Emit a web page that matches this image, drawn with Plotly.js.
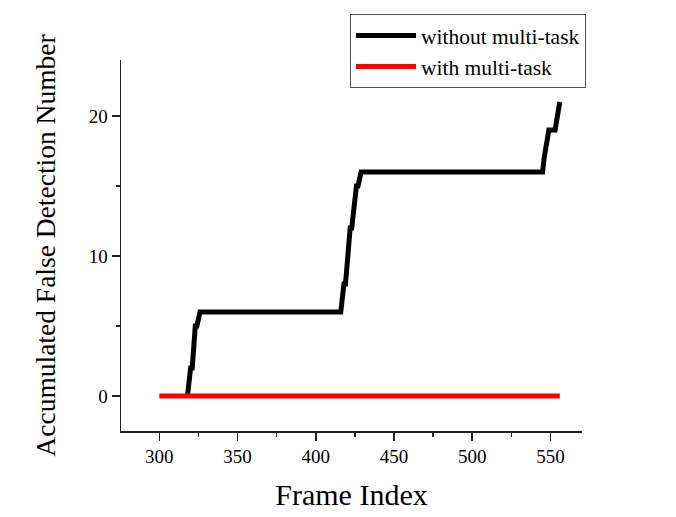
<!DOCTYPE html>
<html>
<head>
<meta charset="utf-8">
<script src="https://cdn.plot.ly/plotly-3.0.1.min.js"></script>
<style>
  html, body { margin: 0; padding: 0; background: #fff; }
  #chart { width: 676px; height: 517px; }
</style>
</head>
<body>
<div id="chart"></div>
<script>
// accumulated false detections
var framesWithout = [318, 320, 321, 323, 324, 326, 416, 418, 419, 422, 423, 426, 427, 429, 545, 546, 549, 553, 556];
var countsWithout = [0, 2, 2, 5, 5, 6, 6, 8, 8, 12, 12, 15, 15, 16, 16, 17, 19, 19, 21];

var framesWith = [300, 556];
var countsWith = [0, 0];

var seriesNames = ['without multi-task', 'with multi-task'];

var serif = 'Liberation Serif, Times New Roman, serif';

var traceWithout = {
  x: framesWithout,
  y: countsWithout,
  mode: 'lines',
  name: seriesNames[0],
  line: {color: '#000000', width: 5}
};

var traceWith = {
  x: framesWith,
  y: countsWith,
  mode: 'lines',
  name: seriesNames[1],
  line: {color: '#ff0000', width: 5}
};

var layout = {
  width: 676,
  height: 517,
  margin: {l: 121, r: 94, t: 60, b: 86},
  plot_bgcolor: 'white',
  paper_bgcolor: 'white',
  font: {family: serif, color: '#000'},
  xaxis: {
    range: [275.5, 570.2],
    tickvals: [300, 350, 400, 450, 500, 550],
    ticks: 'outside',
    ticklen: 8,
    tickwidth: 1.5,
    tickcolor: '#222',
    minor: {tickvals: [325, 375, 425, 475, 525], ticks: 'outside', ticklen: 4, tickwidth: 1.5, tickcolor: '#222'},
    showline: true,
    linecolor: '#222',
    linewidth: 1.5,
    showgrid: false,
    zeroline: false,
    tickfont: {size: 19},
    title: {text: 'Frame Index', font: {size: 30}, standoff: 17},
    automargin: false
  },
  yaxis: {
    range: [-2.5, 24.0],
    tickvals: [0, 10, 20],
    ticks: 'outside',
    ticklen: 8,
    tickwidth: 1.5,
    tickcolor: '#222',
    minor: {tickvals: [5, 15], ticks: 'outside', ticklen: 4, tickwidth: 1.5, tickcolor: '#222'},
    showline: true,
    linecolor: '#222',
    linewidth: 1.5,
    showgrid: false,
    zeroline: false,
    tickfont: {size: 19},
    title: {text: 'Accumulated False Detection Number', font: {size: 27.5}, standoff: 25},
    automargin: false
  },
  showlegend: true,
  legend: {
    x: 1.0087,
    y: 1.124,
    xanchor: 'right',
    yanchor: 'top',
    bgcolor: 'white',
    bordercolor: '#555',
    borderwidth: 1,
    font: {size: 21.5, family: serif},
    itemwidth: 60,
    tracegroupgap: 0
  }
};

var config = {displayModeBar: false, staticPlot: true};

Plotly.newPlot('chart', [traceWithout, traceWith], layout, config);
</script>
</body>
</html>
